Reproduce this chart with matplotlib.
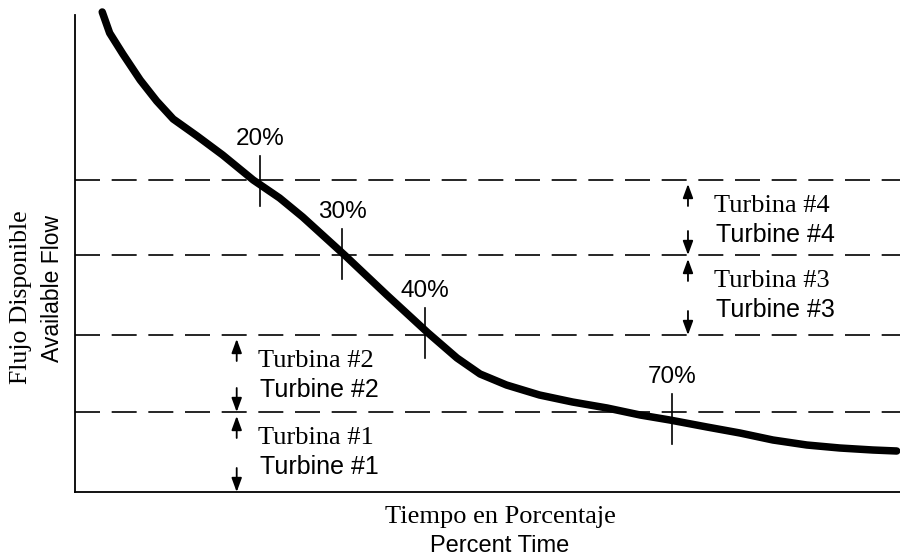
import matplotlib.pyplot as plt

# flow duration curve (x = percent time, y = flow, arbitrary units)
pct = [0.9, 1.8, 3.4, 5.5, 7.5, 9.5, 12.4, 15.5, 19.2, 22.4, 25.2, 30.4, 35.4, 40.4,
       43.9, 46.7, 49.9, 53.9, 57.9, 62.1, 66.1, 69.7, 74.2, 78.2, 82.2, 86.3, 90.3, 94.3, 97.2]
flow = [480, 459, 438, 412, 391, 373, 356, 337, 312, 294, 275, 236, 197, 159,
        134, 118, 107, 97, 90, 84, 77, 72, 65, 59, 52, 47, 44, 42, 41]

levels = [80, 157, 237, 312]          # dashed turbine thresholds
marks = [20, 30, 40, 70]              # percent markers on the curve
mark_flow = [311, 238, 159, 73]
mark_labels = ['20%', '30%', '40%', '70%']

serif = ['Liberation Serif', 'DejaVu Serif']
sans = ['Liberation Sans', 'DejaVu Sans']

fig = plt.figure(figsize=(9, 5.6), dpi=100)
ax = fig.add_axes([75/900, 68/560, 825/900, 477/560])
ax.set_xlim(-2.4, 97.6)
ax.set_ylim(0, 477)
for s in ['top', 'right']:
    ax.spines[s].set_visible(False)
ax.spines['left'].set_linewidth(1.3)
ax.spines['bottom'].set_linewidth(1.3)
ax.set_xticks([])
ax.set_yticks([])

# curve
ax.plot(pct, flow, color='black', lw=5.4, solid_capstyle='round',
        solid_joinstyle='round', clip_on=False)

# dashed levels
for lv in levels:
    ax.axhline(lv, color='black', lw=1.2, linestyle=(0, (15, 7)))

# percent markers
for p, f, lab in zip(marks, mark_flow, mark_labels):
    ax.plot([p, p], [f - 25, f + 25], color='black', lw=1.2)
    ax.text(p, f + 36, lab, fontsize=17.5, family=sans, ha='center', va='baseline')

# turbine arrows and labels
arrow = dict(arrowstyle='-|>,head_length=0.6,head_width=0.22', color='black', lw=1.3,
             mutation_scale=14, shrinkA=0, shrinkB=0)

def turbine(x, lo, hi, n, dx):
    ax.annotate('', xy=(x, hi - 4), xytext=(x, hi - 26), arrowprops=arrow)
    ax.annotate('', xy=(x, lo), xytext=(x, lo + 24), arrowprops=arrow)
    ax.text(x + dx, hi - 32, 'Turbina #%d' % n, fontsize=19, family=serif, va='baseline')
    ax.text(x + dx + 0.2, hi - 62, 'Turbine #%d' % n, fontsize=18, family=sans, va='baseline')

turbine(17.2, 0, 80, 1, 2.6)
turbine(17.2, 80, 157, 2, 2.6)
turbine(71.9, 157, 237, 3, 3.2)
turbine(71.9, 237, 312, 4, 3.2)

# axis labels
fig.text(21/900, 1 - 297/560, 'Flujo Disponible', rotation=90, fontsize=18.5, family=serif,
         ha='center', va='center')
fig.text(53/900, 1 - 288/560, 'Available Flow', rotation=90, fontsize=16.5, family=sans,
         ha='center', va='center')
fig.text(500/900, 1 - 517/560, 'Tiempo en Porcentaje', fontsize=19, family=serif,
         ha='center', va='center')
fig.text(500/900, 1 - 546/560, 'Percent Time', fontsize=17, family=sans,
         ha='center', va='center')

fig.savefig('out.png', dpi=100)
